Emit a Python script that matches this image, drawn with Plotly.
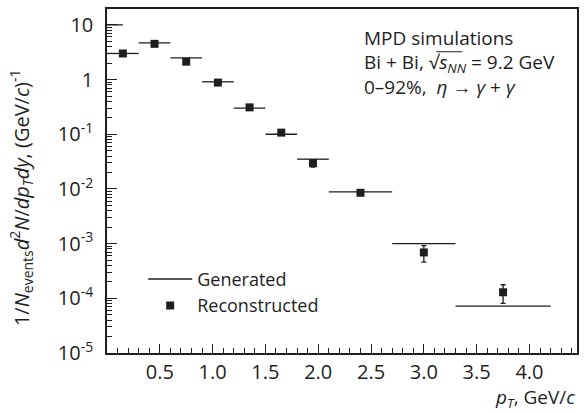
import plotly.graph_objects as go

# ---- data ----
rec_pt = [0.15, 0.45, 0.75, 1.05, 1.35, 1.65, 1.95, 2.4, 3.0, 3.75]
rec_val = [3.0, 4.5, 2.12, 0.88, 0.31, 0.107, 0.0297, 0.0085, 6.9e-4, 1.29e-4]
rec_err = [0.0, 0.0, 0.0, 0.0, 0.0, 0.0, 0.0045, 0.0005, 2.3e-4, 4.8e-5]

gen_lo = [0.0, 0.0, 0.3, 0.6, 0.9, 1.2, 1.5, 1.8, 2.1, 2.7, 3.3]
gen_hi = [0.15, 0.3, 0.6, 0.9, 1.2, 1.5, 1.8, 2.1, 2.7, 3.3, 4.2]
gen_val = [10.0, 3.0, 4.7, 2.5, 0.91, 0.30, 0.10, 0.035, 0.0088, 1.0e-3, 7.2e-5]

x_ticks = [0.5, 1.0, 1.5, 2.0, 2.5, 3.0, 3.5, 4.0]
x_ticktext = ["0.5", "1.0", "1.5", "2.0", "2.5", "3.0", "3.5", "4.0"]
y_ticks = [1e-5, 1e-4, 1e-3, 1e-2, 1e-1, 1, 10]
y_ticktext = ["10<sup>-5</sup>", "10<sup>-4</sup>", "10<sup>-3</sup>", "10<sup>-2</sup>",
              "10<sup>-1</sup>", "1", "10"]

INK = "#1e1e1e"
FONT = "Open Sans"

gx, gy = [], []
for lo, hi, v in zip(gen_lo, gen_hi, gen_val):
    gx += [lo, hi, None]
    gy += [v, v, None]

minor_y = [k * 10.0 ** e for e in range(-5, 2) for k in range(2, 10)]

fig = go.Figure()
fig.add_trace(go.Scatter(x=gx, y=gy, mode="lines", name="Generated",
                         line=dict(color=INK, width=1.3), hoverinfo="skip"))
fig.add_trace(go.Scatter(x=rec_pt, y=rec_val, mode="markers", name="Reconstructed",
                         marker=dict(symbol="square", size=8, color=INK),
                         error_y=dict(type="data", array=rec_err, color=INK,
                                      thickness=1.3, width=2.5)))

fig.update_layout(
    width=586, height=413,
    margin=dict(l=107, r=8, t=7, b=60),
    paper_bgcolor="white", plot_bgcolor="white",
    font=dict(family=FONT, color=INK, size=18),
    showlegend=True,
    legend=dict(x=0.077, y=0.268, xanchor="left", yanchor="top",
                bgcolor="rgba(0,0,0,0)", font=dict(size=18, family=FONT, color=INK),
                itemwidth=44, tracegroupgap=0),
    xaxis=dict(range=[0, 4.45], showline=True, linecolor=INK, linewidth=1.5, mirror=True,
               ticks="inside", ticklen=9, tickwidth=1.2, tickcolor=INK,
               tickmode="array", tickvals=x_ticks, ticktext=x_ticktext,
               tickfont=dict(size=20, family=FONT, color=INK),
               minor=dict(ticks="inside", ticklen=5, tickwidth=1.2, tickcolor=INK,
                          dtick=0.1, tick0=0, showgrid=False),
               showgrid=False, zeroline=False, ticklabelstandoff=0),
    yaxis=dict(type="log", range=[-5, 1.29], showline=True, linecolor=INK, linewidth=1.5,
               mirror=True, ticks="inside", ticklen=10, tickwidth=1.2, tickcolor=INK,
               tickmode="array", tickvals=y_ticks, ticktext=y_ticktext,
               tickfont=dict(size=20, family=FONT, color=INK),
               minor=dict(ticks="inside", ticklen=5, tickwidth=1.2, tickcolor=INK,
                          tickmode="array", tickvals=minor_y, showgrid=False),
               showgrid=False, zeroline=False, ticklabelstandoff=8),
)

def px_x(px):
    return (px - 107) / 471.0

def px_y(py):
    return (353 - py) / 346.0

ann = [
    ("MPD simulations", 36),
    ("Bi + Bi, √<i>s</i><sub><i>NN</i></sub> = 9.2 GeV", 61),
    ("0–92%,  <i>η</i> → <i>γ</i> + <i>γ</i>", 85),
]
for txt, py in ann:
    fig.add_annotation(x=px_x(363), y=px_y(py), xref="paper", yref="paper",
                       text=txt, showarrow=False, xanchor="left", yanchor="middle",
                       font=dict(size=19, family=FONT, color=INK))

# overline of the square root
fig.add_shape(type="line", xref="paper", yref="paper",
              x0=px_x(437), x1=px_x(463), y0=px_y(50), y1=px_y(50),
              line=dict(color=INK, width=1))

fig.add_annotation(x=1.0, y=px_y(398), xref="paper", yref="paper",
                   text="<i>p</i><sub><i>T</i></sub>, GeV/<i>c</i>", showarrow=False,
                   xanchor="right", yanchor="middle",
                   font=dict(size=19, family=FONT, color=INK))

fig.add_annotation(x=px_x(21), y=px_y(197), xref="paper", yref="paper",
                   text="1/<i>N</i><sub>events</sub><i>d</i><sup>2</sup><i>N</i>/<i>dp</i><sub><i>T</i></sub><i>dy</i>, (GeV/<i>c</i>)<sup>-1</sup>",
                   textangle=-90, showarrow=False, xanchor="center", yanchor="middle",
                   font=dict(size=20, family=FONT, color=INK))

fig.write_html("out.html", config={"displayModeBar": False},
               post_script="document.body.style.margin='0';document.body.style.padding='0';")
